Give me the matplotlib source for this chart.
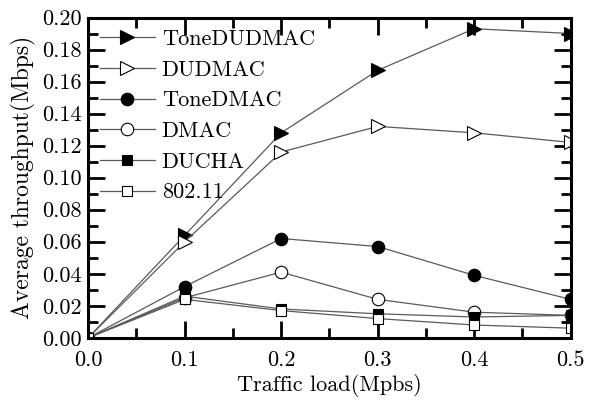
import matplotlib
matplotlib.use("Agg")
import matplotlib.pyplot as plt
from matplotlib.ticker import MultipleLocator, FormatStrFormatter

plt.rcParams['font.family'] = ['cmr10', 'DejaVu Serif']
plt.rcParams['axes.formatter.use_mathtext'] = True

load = [0.0, 0.1, 0.2, 0.3, 0.4, 0.5]
tone_dudmac = [0.0, 0.064, 0.128, 0.167, 0.193, 0.190]
dudmac = [0.0, 0.060, 0.116, 0.132, 0.128, 0.122]
tone_dmac = [0.0, 0.032, 0.062, 0.057, 0.039, 0.024]
dmac = [0.0, 0.025, 0.041, 0.024, 0.016, 0.014]
ducha = [0.0, 0.026, 0.018, 0.015, 0.013, 0.014]
ieee80211 = [0.0, 0.024, 0.017, 0.012, 0.008, 0.006]

series = [
    ("ToneDUDMAC", tone_dudmac, '>', 'black', 10),
    ("DUDMAC", dudmac, '>', 'white', 10),
    ("ToneDMAC", tone_dmac, 'o', 'black', 9),
    ("DMAC", dmac, 'o', 'white', 9),
    ("DUCHA", ducha, 's', 'black', 7.5),
    ("802.11", ieee80211, 's', 'white', 7.5),
]

fig = plt.figure(figsize=(5.92, 4.07), dpi=100)
ax = fig.add_axes([0.149, 0.170, 0.815, 0.787])

for name, vals, mk, fc, ms in series:
    ax.plot(load, vals, color='#5a5a5a', lw=0.9, marker=mk, markersize=ms,
            markerfacecolor=fc, markeredgecolor='black', markeredgewidth=0.8,
            label=name, clip_on=True)

ax.set_xlim(0.0, 0.5)
ax.set_ylim(0.0, 0.20)
ax.xaxis.set_major_locator(MultipleLocator(0.1))
ax.xaxis.set_minor_locator(MultipleLocator(0.05))
ax.yaxis.set_major_locator(MultipleLocator(0.02))
ax.yaxis.set_minor_locator(MultipleLocator(0.01))
ax.xaxis.set_major_formatter(FormatStrFormatter('%.1f'))
ax.yaxis.set_major_formatter(FormatStrFormatter('%.2f'))
ax.tick_params(which='both', direction='in', top=True, right=True, width=2.0,
               labelsize=16)
ax.tick_params(axis='x', which='both', pad=9)
ax.tick_params(axis='y', which='both', pad=5)
ax.tick_params(which='major', length=12)
ax.tick_params(which='minor', length=7)
for s in ax.spines.values():
    s.set_linewidth(2.2)

ax.set_xlabel('Traffic load(Mpbs)', fontsize=16, labelpad=3)
ax.set_ylabel('Average throughput(Mbps)', fontsize=17, labelpad=4)

ax.legend(loc='upper left', frameon=False, fontsize=16, handlelength=2.5,
          handletextpad=0.3, labelspacing=0.5, borderaxespad=0.0,
          bbox_to_anchor=(0.005, 0.99))

fig.savefig('out.png', dpi=100)
